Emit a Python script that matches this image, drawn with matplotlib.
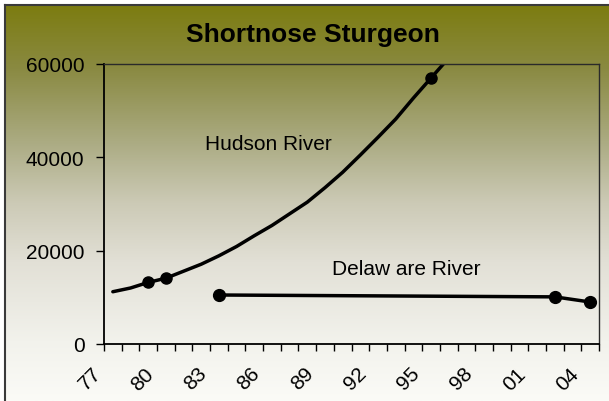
import numpy as np
import matplotlib
matplotlib.use('Agg')
import matplotlib.pyplot as plt
from matplotlib.colors import LinearSegmentedColormap
from matplotlib.transforms import ScaledTranslation

plt.rcParams['font.family'] = ['Liberation Sans', 'DejaVu Sans']

# data
hudson_years = list(range(1977, 1997))
hudson_counts = [11200, 12000, 13200, 14100, 15600, 17100, 18900, 20900, 23200, 25400,
                 27900, 30400, 33500, 36800, 40500, 44300, 48200, 52700, 57000, 61300]
hudson_marked = [1979, 1980, 1995]
delaware_years = [1983, 2002, 2004]
delaware_counts = [10500, 10100, 9000]
tick_years = list(range(1977, 2005, 3))
tick_labels = ['77', '80', '83', '86', '89', '92', '95', '98', '01', '04']
y_ticks = [0, 20000, 40000, 60000]

fig = plt.figure(figsize=(6.09, 4.02), dpi=100)
fig.patch.set_facecolor('white')

# olive -> white gradient behind everything
bg = fig.add_axes([5 / 609, 0, 1 - 5 / 609, 1 - 6 / 402], zorder=0)
stops = [(0.0, '#7c7c10'), (0.16, '#8a8a42'), (0.35, '#acac84'),
         (0.5, '#cccab6'), (0.65, '#e2e0d6'), (0.85, '#f2f2ec'), (1.0, '#fbfbf7')]
cmap = LinearSegmentedColormap.from_list('olive', stops)
grad = np.linspace(0, 1, 256).reshape(-1, 1)
bg.imshow(grad, aspect='auto', cmap=cmap, extent=[0, 1, 0, 1])
bg.set_xticks([])
bg.set_yticks([])
for s in ['right', 'bottom']:
    bg.spines[s].set_visible(False)
for s in ['left', 'top']:
    bg.spines[s].set_color('#3a3a3a')
    bg.spines[s].set_linewidth(1.5)

ax = fig.add_axes([104 / 609, 1 - 345 / 402, 495 / 609, 280 / 402], zorder=1)
ax.patch.set_alpha(0)

ax.plot(hudson_years, hudson_counts, color='black', lw=2.5, solid_capstyle='round',
        solid_joinstyle='round', marker='o', ms=8,
        markevery=[hudson_years.index(y) for y in hudson_marked])
ax.plot(delaware_years, delaware_counts, color='black', lw=2.5, marker='o', ms=8.5,
        clip_on=False)

ax.text(1985.8, 43000, 'Hudson River', fontsize=15, ha='center', va='center')
ax.text(1993.6, 16200, 'Delaw are River', fontsize=15, ha='center', va='center')

ax.set_ylim(0, 60000)
ax.set_xlim(1976.5, 2004.5)
ax.set_yticks(y_ticks)
ax.set_yticklabels([str(v) for v in y_ticks])
ax.tick_params(axis='y', direction='out', length=6, width=1, labelsize=15, pad=8)

ax.set_xticks(tick_years)
ax.set_xticklabels(tick_labels, rotation=45, ha='center')
ax.set_xticks(np.arange(1976.5, 2005, 1), minor=True)
ax.tick_params(axis='x', which='major', length=0, labelsize=15, pad=14)
ax.tick_params(axis='x', which='minor', direction='out', length=5, width=1)
shift = ScaledTranslation(-0.23, 0, fig.dpi_scale_trans)
for lbl in ax.get_xticklabels():
    lbl.set_transform(lbl.get_transform() + shift)

for s in ['left', 'bottom']:
    ax.spines[s].set_linewidth(1.3)
    ax.spines[s].set_color('black')
for s in ['top', 'right']:
    ax.spines[s].set_linewidth(1)
    ax.spines[s].set_color('#2a2a2a')

fig.text(313 / 609, 1 - 42 / 402, 'Shortnose Sturgeon', fontsize=19, fontweight='bold',
         ha='center', va='baseline')

fig.savefig('out.png', dpi=100)
